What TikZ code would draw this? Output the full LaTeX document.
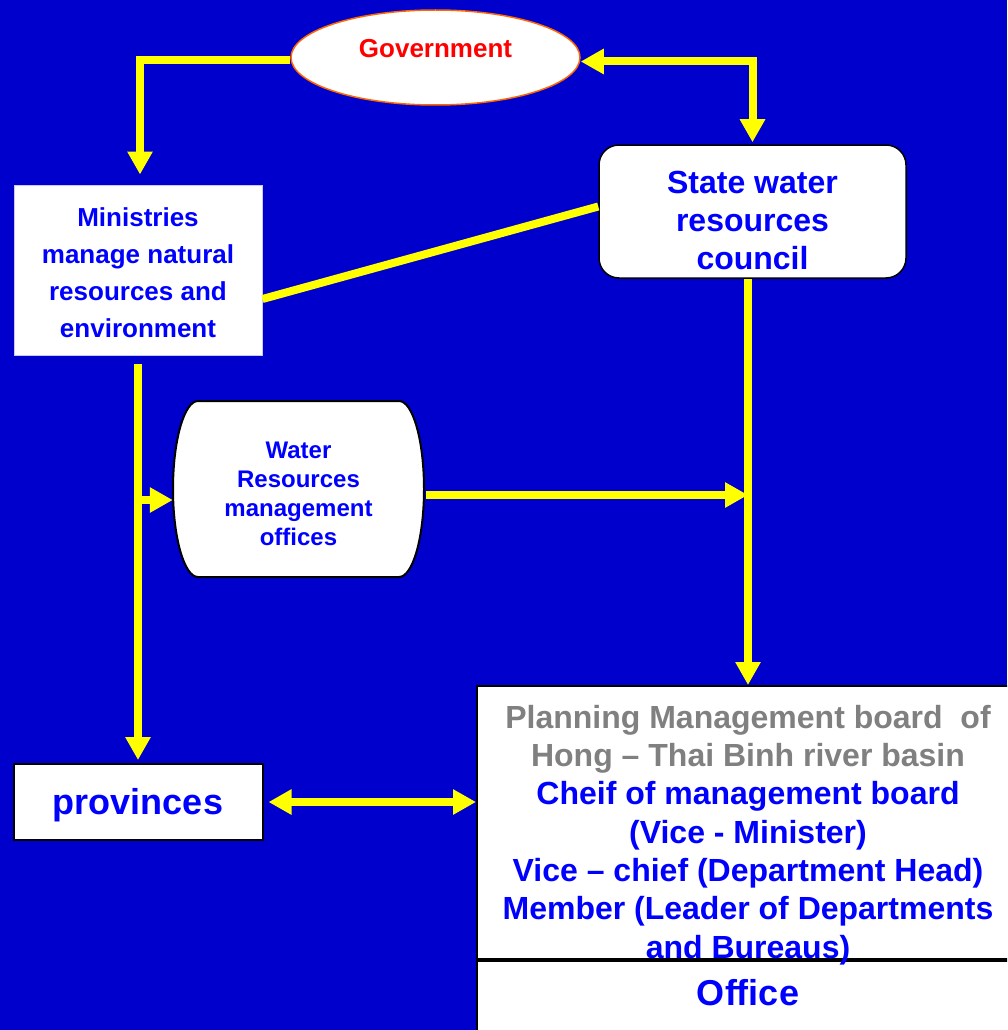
\documentclass[tikz,border=0pt]{standalone}
\usepackage{fontspec}
\setmainfont{Liberation Sans}
\usetikzlibrary{
  arrows.meta,
  shapes.geometric,
  positioning
}
\definecolor{bgblue}{RGB}{0,0,204}
\definecolor{txtblue}{RGB}{0,0,255}
\definecolor{lineyellow}{RGB}{255,255,0}
\definecolor{govred}{RGB}{255,0,0}
\definecolor{govorange}{RGB}{255,102,0}
\definecolor{boardgray}{RGB}{128,128,128}
\tikzset{
  yline/.style={
    draw=lineyellow,
    line width=8pt
  },
  yarrow/.style={
    yline,
    -{Triangle[length=23pt,width=24pt]}
  },
  ydouble/.style={
    yline,
    {Triangle[length=23pt,width=24pt]}-{Triangle[length=23pt,width=24pt]}
  },
  whitebox/.style={
    fill=white,
    inner sep=0pt,
    align=center,
    text=txtblue
  },
  govshape/.style={
    ellipse,
    fill=white,
    draw=govorange,
    line width=1.5pt,
    minimum width=289pt,
    minimum height=95pt,
    inner sep=0pt
  },
  govtext/.style={
    font=\fontsize{26}{31}\selectfont\bfseries,
    text=govred,
    inner sep=0pt
  },
  minbox/.style={
    whitebox,
    draw={rgb,255:red,200;green,200;blue,255},
    line width=1pt,
    minimum width=248pt,
    minimum height=170pt,
    text height=136pt,
    font=\fontsize{26}{37}\selectfont\bfseries
  },
  councilbox/.style={
    whitebox,
    draw=black,
    line width=1.5pt,
    rounded corners=20pt,
    minimum width=307pt,
    minimum height=133pt,
    text height=117pt,
    font=\fontsize{32}{38}\selectfont\bfseries
  },
  wrshape/.style={
    fill=white,
    draw=black,
    line width=2pt
  },
  wrtext/.style={
    align=center,
    inner sep=0pt,
    text=txtblue,
    text height=109pt,
    font=\fontsize{24}{29}\selectfont\bfseries
  },
  provbox/.style={
    whitebox,
    draw=black,
    line width=2pt,
    minimum width=249pt,
    minimum height=76pt,
    text height=32pt,
    font=\fontsize{36}{40}\selectfont\bfseries
  },
  boardbox/.style={
    fill=white,
    draw=black,
    line width=2pt,
    minimum width=560pt,
    minimum height=273pt,
    inner sep=0pt
  },
  boardtext/.style={
    align=center,
    inner sep=0pt,
    text=txtblue,
    font=\fontsize{32}{38.3}\selectfont\bfseries
  }
}

\begin{document}
\begin{tikzpicture}[x=1pt, y=-1pt]
  \useasboundingbox (0,0) rectangle (1007,1030);
  \clip (0,0) rectangle (1007,1030);
  \fill[bgblue] (0,0) rectangle (1007,1030);

  % boxes
  \node[govshape] (gov) at (435.5,57.5) {};
  \node[govtext] (govlabel) at (435.5,49) {Government};
  \node[minbox] (min) at (138,270) {Ministries\\manage natural\\resources and\\environment};
  \node[councilbox] (swc) at (752.5,211.5) {State water\\resources\\council};
  \filldraw[wrshape] (198,401) -- (399,401)
    arc[start angle=90, end angle=-90, x radius=25pt, y radius=88pt] -- (198,577)
    arc[start angle=270, end angle=90, x radius=25pt, y radius=88pt] -- cycle;
  \node[wrtext, minimum width=251pt, minimum height=176pt] (wro) at (298.5,491) {Water\\Resources\\management\\offices};
  \node[provbox] (prov) at (138,802) {provinces};
  \node[boardbox, anchor=north west] (board) at (476,685) {};
  \node[boardbox, anchor=north west, minimum height=100pt] (offbox) at (board.south west) {};
  \node[boardtext, anchor=north] (boardlabel) at (748,705) {\textcolor{boardgray}{Planning Management board\ \ of}\\
    \textcolor{boardgray}{Hong – Thai Binh river basin}\\
    Cheif of management board\\
    (Vice - Minister)\\
    Vice – chief (Department Head)\\
    Member (Leader of Departments\\
    and Bureaus)};
  \node[boardtext, font=\fontsize{36}{40}\selectfont\bfseries] (office) at (748,993) {Office};

  % connectors
  \coordinate (branch) at (138,500);
  \coordinate (junc) at (748,495);
  \draw[yarrow, shorten >=10pt] ([yshift=-3pt]gov.west) -| ([xshift=2pt]min.north);
  \draw[ydouble, shorten >=2pt] ([yshift=-4pt]gov.east) -| (swc.north);
  \draw[yline] ([yshift=-29pt]min.east) -- ([yshift=5pt]swc.west);
  \draw[yarrow, shorten <=8pt, shorten >=3pt] (min.south) -- (min.south |- prov.north);
  \draw[yarrow] (branch) -- (branch -| wro.west);
  \draw[yarrow, shorten <=2pt] (wro.east |- junc) -- (junc);
  \draw[yarrow] (swc.south -| junc) -- (board.north -| junc);
  \draw[ydouble, shorten <=5pt] (prov.east) -- (prov.east -| board.west);
\end{tikzpicture}
\end{document}
